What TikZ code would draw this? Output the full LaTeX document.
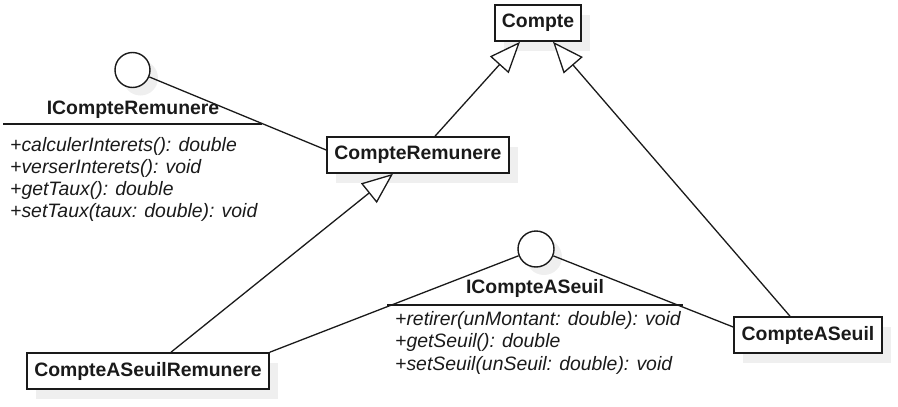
\documentclass[tikz,border=0pt]{standalone}
\usepackage{fontspec}
\setmainfont{Liberation Sans}
\usetikzlibrary{arrows.meta,shadows}
\definecolor{shadowgray}{HTML}{EFEFEF}
\definecolor{inkgray}{HTML}{1A1A1A}
\begin{document}
\begin{tikzpicture}[x=1pt,y=-1pt,
  every node/.style={text=inkgray},
  classbox/.style={draw=inkgray, line width=1.6pt, fill=white, inner sep=0pt,
    minimum height=36pt, font=\fontsize{19.4}{22}\selectfont\bfseries,
    drop shadow={shadow xshift=9pt, shadow yshift=-10pt, opacity=1, fill=shadowgray}},
  iface/.style={draw=inkgray, line width=1.4pt, circle, fill=white, inner sep=0pt,
    drop shadow={shadow xshift=8pt, shadow yshift=-8pt, opacity=1, fill=shadowgray}},
  ilabel/.style={anchor=base, inner sep=0pt, font=\fontsize{19.4}{22}\selectfont\bfseries},
  meth/.style={anchor=base west, inner sep=0pt, font=\fontsize{19.4}{22}\selectfont\itshape},
  conn/.style={draw=inkgray, line width=1.3pt},
  gen/.style={conn, -{Triangle[open, length=31pt, width=25pt, line width=1.3pt, fill=white]}},
  sep/.style={draw=inkgray, line width=1.6pt}
]
\useasboundingbox (0,0) rectangle (898,407);

% classes
\node[classbox, minimum width=86pt] (compte) at (538,23) {Compte};
\node[classbox, minimum width=182pt] (cr) at (418,155) {CompteRemunere};
\node[classbox, minimum width=242pt] (casr) at (148,371) {CompteASeuilRemunere};
\node[classbox, minimum width=148pt] (cas) at (808,335) {CompteASeuil};

% interface ICompteRemunere
\node[iface, minimum size=35pt] (irem) at (132.5,70) {};
\node[ilabel] (iremlabel) at (133,114) {ICompteRemunere};
\coordinate (iremsepA) at (3,124);
\coordinate (iremsepB) at (262,124);
\draw[sep] (iremsepA) -- (iremsepB);
\node[meth] (m1) at (10,151) {+calculerInterets(): double};
\node[meth] (m2) at (10,173) {+verserInterets(): void};
\node[meth] (m3) at (10,195) {+getTaux(): double};
\node[meth] (m4) at (10,217) {+setTaux(taux: double): void};

% interface ICompteASeuil
\node[iface, minimum size=36pt] (iseuil) at (536,249) {};
\node[ilabel] (iseuillabel) at (535,293) {ICompteASeuil};
\coordinate (iseuilsepA) at (387,305);
\coordinate (iseuilsepB) at (683,305);
\draw[sep] (iseuilsepA) -- (iseuilsepB);
\node[meth] (m5) at (395,325) {+retirer(unMontant: double): void};
\node[meth] (m6) at (395,347.5) {+getSeuil(): double};
\node[meth] (m7) at (395,370) {+setSeuil(unSeuil: double): void};

% realisations (lollipop)
\draw[conn] (irem) -- ([yshift=5pt]cr.west);
\draw[conn] (iseuil) -- (casr.north east);
\draw[conn] (iseuil) -- ([yshift=8pt]cas.west);

% generalisations
\draw[gen] ([xshift=17pt]cr.north) -- ([xshift=-18pt]compte.south);
\draw[gen] ([xshift=-18pt]cas.north) -- ([xshift=15pt]compte.south);
\draw[gen] ([xshift=23pt]casr.north) -- ([xshift=-25pt]cr.south);
\end{tikzpicture}
\end{document}
